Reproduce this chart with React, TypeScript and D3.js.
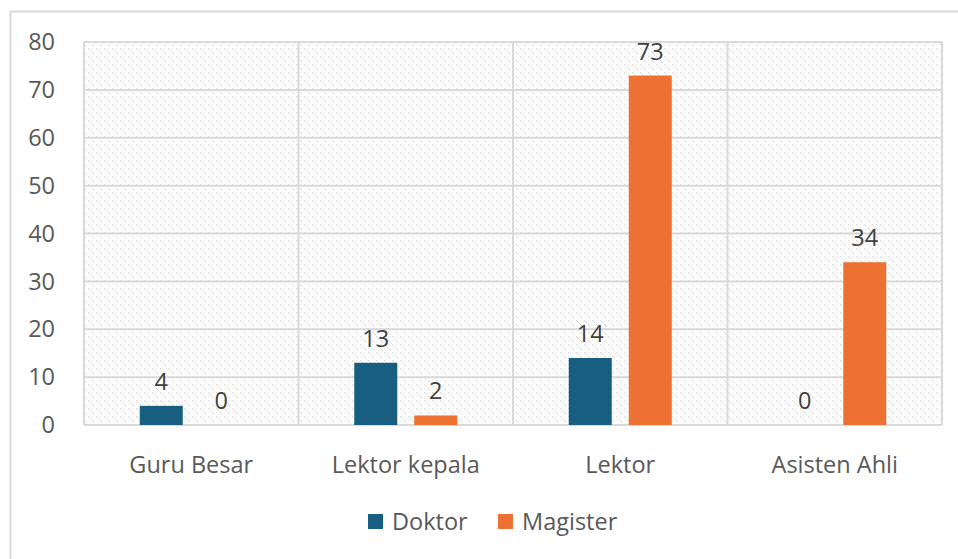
import { useEffect, useRef } from 'react'
import * as d3 from 'd3'

// ─── Data ─────────────────────────────────────────────────────────────────────

const CATEGORIES = ['Guru Besar', 'Lektor kepala', 'Lektor', 'Asisten Ahli']
const SERIES = ['Doktor', 'Magister']
const DOKTOR = [4, 13, 14, 0]
const MAGISTER = [0, 2, 73, 34]
const Y_TICKS = [0, 10, 20, 30, 40, 50, 60, 70, 80]
const COLORS = ['#175E80', '#EC7133']

// ─── Layout ───────────────────────────────────────────────────────────────────

const W = 958
const H = 559
const PLOT = { left: 84, right: 942, top: 42, bottom: 425 }
const FONT = '"Open Sans", "Noto Sans", sans-serif'
const TEXT = '#595959'
const GRID = '#d9d9d9'

export default function App() {
  const svgRef = useRef<SVGSVGElement>(null)

  useEffect(() => {
    if (!svgRef.current) return
    const svg = d3.select(svgRef.current)
    svg.selectAll('*').remove()

    // dotted diagonal pattern for plot background
    const defs = svg.append('defs')
    const pat = defs.append('pattern')
      .attr('id', 'dots')
      .attr('patternUnits', 'userSpaceOnUse')
      .attr('width', 8).attr('height', 8)
    pat.append('rect').attr('width', 8).attr('height', 8).attr('fill', '#fff')
    const dots: [number, number, string][] = [
      [0, 0, '#d2d2d2'], [1, 1, '#dadada'], [2, 2, '#e8e8e8'],
      [4, 4, '#d2d2d2'], [5, 5, '#dadada'], [6, 6, '#e8e8e8'],
      [4, 0, '#ececec'], [0, 4, '#ececec'],
    ]
    dots.forEach(([x, y, c]) => {
      pat.append('rect')
        .attr('x', x).attr('y', y).attr('width', 1).attr('height', 1)
        .attr('fill', c)
    })

    // chart frame
    svg.append('rect')
      .attr('x', 10.5).attr('y', 11.5)
      .attr('width', W).attr('height', H)
      .attr('fill', '#fff').attr('stroke', GRID).attr('stroke-width', 2)

    const x0 = d3.scaleBand<string>().domain(CATEGORIES).range([PLOT.left, PLOT.right])
    const y = d3.scaleLinear().domain([0, 80]).range([PLOT.bottom, PLOT.top])
    const barW = 43
    const gap = 17
    const x1 = (i: number) => (x0.bandwidth() - (2 * barW + gap)) / 2 + i * (barW + gap)

    svg.append('rect')
      .attr('x', PLOT.left).attr('y', PLOT.top)
      .attr('width', PLOT.right - PLOT.left).attr('height', PLOT.bottom - PLOT.top)
      .attr('fill', 'url(#dots)')

    // horizontal gridlines
    svg.append('g').selectAll('line').data(Y_TICKS).join('line')
      .attr('x1', PLOT.left).attr('x2', PLOT.right)
      .attr('y1', (d) => y(d)).attr('y2', (d) => y(d))
      .attr('stroke', GRID).attr('stroke-width', 2)

    // vertical gridlines at category boundaries
    const bounds = CATEGORIES.map((c) => x0(c) ?? 0).concat([PLOT.right])
    svg.append('g').selectAll('line').data(bounds).join('line')
      .attr('x1', (d) => d).attr('x2', (d) => d)
      .attr('y1', PLOT.top).attr('y2', PLOT.bottom)
      .attr('stroke', GRID).attr('stroke-width', 2)

    // y tick labels
    svg.append('g').selectAll('text').data(Y_TICKS).join('text')
      .attr('x', 55).attr('y', (d) => y(d))
      .attr('dy', '0.35em')
      .attr('text-anchor', 'end')
      .attr('font-family', FONT).attr('font-size', 23.5).attr('fill', TEXT)
      .text((d) => d)

    // bars + labels
    const series = [DOKTOR, MAGISTER]
    series.forEach((vals, si) => {
      const g = svg.append('g')
      g.selectAll('rect').data(vals).join('rect')
        .attr('x', (_, i) => (x0(CATEGORIES[i]) ?? 0) + x1(si))
        .attr('y', (d) => y(d))
        .attr('width', barW)
        .attr('height', (d) => y(0) - y(d))
        .attr('fill', COLORS[si])
      g.selectAll('text').data(vals).join('text')
        .attr('x', (_, i) => (x0(CATEGORIES[i]) ?? 0) + x1(si) + barW / 2)
        .attr('y', (d) => y(d) - 16)
        .attr('text-anchor', 'middle')
        .attr('font-family', FONT).attr('font-size', 23.5).attr('fill', '#404040')
        .text((d) => d)
    })

    // category labels
    svg.append('g').selectAll('text').data(CATEGORIES).join('text')
      .attr('x', (d) => (x0(d) ?? 0) + x0.bandwidth() / 2)
      .attr('y', 473)
      .attr('text-anchor', 'middle')
      .attr('font-family', FONT).attr('font-size', 23.5).attr('fill', TEXT)
      .text((d) => d)

    // legend
    const legendX = [368, 498]
    const lg = svg.append('g')
    SERIES.forEach((s, i) => {
      lg.append('rect')
        .attr('x', legendX[i]).attr('y', 514)
        .attr('width', 15).attr('height', 15)
        .attr('fill', COLORS[i])
      lg.append('text')
        .attr('x', legendX[i] + 24).attr('y', 530)
        .attr('font-family', FONT).attr('font-size', 23.5).attr('fill', TEXT)
        .text(s)
    })
  }, [])

  return (
    <div style={{ position: 'absolute', left: 0, top: 0, width: W, height: H, overflow: 'hidden' }}>
      <svg ref={svgRef} width={W} height={H} />
    </div>
  )
}
